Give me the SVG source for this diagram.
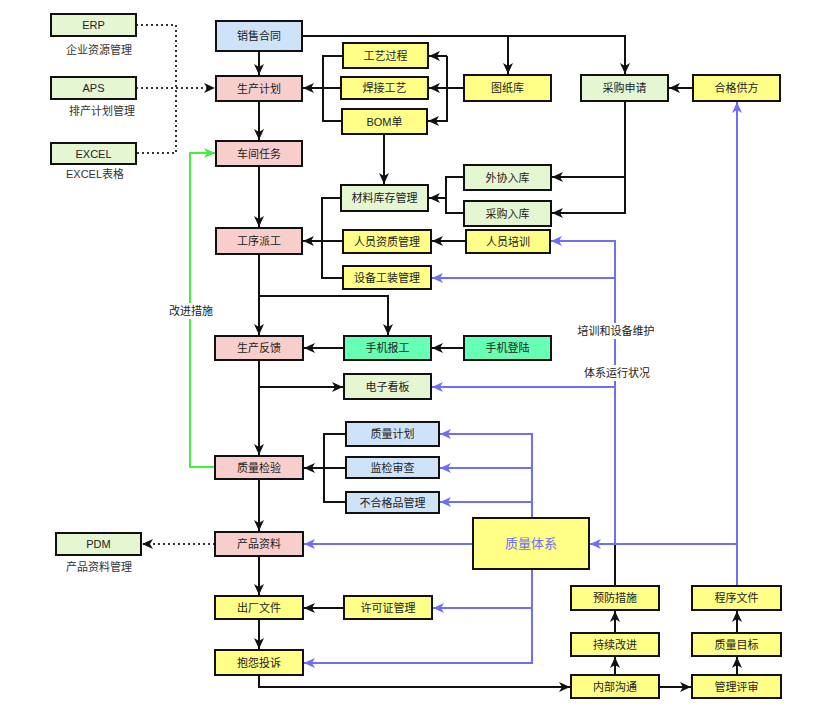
<svg xmlns="http://www.w3.org/2000/svg" width="835" height="706" viewBox="0 0 835 706">
<style>
text{font-family:"Liberation Sans","Noto Sans CJK SC",sans-serif;font-size:11px;fill:#222;text-anchor:middle;dominant-baseline:central}
.n rect{stroke:#111;stroke-width:2}
.pink{fill:#f8cecc}.yel{fill:#ffff88}.blu{fill:#cfe3f8}.grn{fill:#e4f7d2}.mint{fill:#66ffb3}
.sub{fill:#333}
.k{fill:none;stroke:#111;stroke-width:2}
.b{fill:none;stroke:#6f6ff5;stroke-width:2}
.g{fill:none;stroke:#44ee44;stroke-width:2}
.d{fill:none;stroke:#333;stroke-width:2;stroke-dasharray:2 3}
</style>
<defs>
<marker id="ak" markerUnits="userSpaceOnUse" markerWidth="12" markerHeight="10" refX="11" refY="5" orient="auto"><path d="M0,0 L11,5 L0,10 L3,5 z" fill="#111"/></marker>
<marker id="ab" markerUnits="userSpaceOnUse" markerWidth="12" markerHeight="10" refX="11" refY="5" orient="auto"><path d="M0,0 L11,5 L0,10 L3,5 z" fill="#6f6ff5"/></marker>
<marker id="ag" markerUnits="userSpaceOnUse" markerWidth="12" markerHeight="10" refX="11" refY="5" orient="auto"><path d="M0,0 L11,5 L0,10 L3,5 z" fill="#44ee44"/></marker>
</defs>
<rect width="835" height="706" fill="#fff"/>
<g id="connectors">
<!-- dotted -->
<path class="d" d="M136,25 H176 V153 H136"/>
<path class="d" d="M136,88 H215" marker-end="url(#ak)"/>
<path class="d" d="M215,544 H142" marker-end="url(#ak)"/>
<!-- main column -->
<path class="k" d="M259,51 V75" marker-end="url(#ak)"/>
<path class="k" d="M259,101 V140" marker-end="url(#ak)"/>
<path class="k" d="M259,166 V227" marker-end="url(#ak)"/>
<path class="k" d="M259,254 V335" marker-end="url(#ak)"/>
<path class="k" d="M259,296 H388 V335" marker-end="url(#ak)"/>
<path class="k" d="M259,360 V455" marker-end="url(#ak)"/>
<path class="k" d="M259,387 H343" marker-end="url(#ak)"/>
<path class="k" d="M259,479 V531" marker-end="url(#ak)"/>
<path class="k" d="M259,556 V595" marker-end="url(#ak)"/>
<path class="k" d="M259,619 V649" marker-end="url(#ak)"/>
<path class="k" d="M259,675 V687 H570" marker-end="url(#ak)"/>
<path class="k" d="M659,687 H691" marker-end="url(#ak)"/>
<path class="k" d="M615,675 V657" marker-end="url(#ak)"/>
<path class="k" d="M615,633 V611" marker-end="url(#ak)"/>
<path class="k" d="M615,586 V544"/>
<path class="k" d="M737,675 V657" marker-end="url(#ak)"/>
<path class="k" d="M737,633 V611" marker-end="url(#ak)"/>
<!-- top -->
<path class="k" d="M302,36 H625 V74" marker-end="url(#ak)"/>
<path class="k" d="M508,36 V74" marker-end="url(#ak)"/>
<path class="k" d="M464,88 H429" marker-end="url(#ak)"/>
<path class="k" d="M447,88 V56"/>
<path class="k" d="M447,56 H429" marker-end="url(#ak)"/>
<path class="k" d="M447,88 V121 H428" marker-end="url(#ak)"/>
<path class="k" d="M343,56 H323 V121 H342"/>
<path class="k" d="M341,88 H303" marker-end="url(#ak)"/>
<path class="k" d="M384,134 V184" marker-end="url(#ak)"/>
<path class="k" d="M693,88 H669" marker-end="url(#ak)"/>
<path class="k" d="M625,101 V213 H552" marker-end="url(#ak)"/>
<path class="k" d="M625,177 H552" marker-end="url(#ak)"/>
<path class="k" d="M464,177 H446 V213 H464"/>
<path class="k" d="M446,198 H429" marker-end="url(#ak)"/>
<path class="k" d="M341,198 H322 V278 H343"/>
<path class="k" d="M343,241 H303" marker-end="url(#ak)"/>
<path class="k" d="M466,241 H432" marker-end="url(#ak)"/>
<path class="k" d="M464,348 H432" marker-end="url(#ak)"/>
<path class="k" d="M344,348 H304" marker-end="url(#ak)"/>
<path class="k" d="M346,434 H324 V502 H346"/>
<path class="k" d="M346,468 H304" marker-end="url(#ak)"/>
<path class="k" d="M344,608 H304" marker-end="url(#ak)"/>
<!-- blue -->
<path class="b" d="M532,518 V434 H440" marker-end="url(#ab)"/>
<path class="b" d="M532,468 H440" marker-end="url(#ab)"/>
<path class="b" d="M532,502 H440" marker-end="url(#ab)"/>
<path class="b" d="M473,544 H304" marker-end="url(#ab)"/>
<path class="b" d="M532,569 V663 H304" marker-end="url(#ab)"/>
<path class="b" d="M532,608 H433" marker-end="url(#ab)"/>
<path class="b" d="M737,586 V102" marker-end="url(#ab)"/>
<path class="b" d="M737,544 H590" marker-end="url(#ab)"/>
<path class="b" d="M615,544 V241 H551" marker-end="url(#ab)"/>
<path class="b" d="M615,278 H432" marker-end="url(#ab)"/>
<path class="b" d="M615,387 H432" marker-end="url(#ab)"/>
<!-- green -->
<path class="g" d="M215,467 H190 V153 H215" marker-end="url(#ag)"/>
<!-- labels -->
<rect x="170" y="303" width="42" height="16" fill="#fff"/>
<text x="191" y="311">改进措施</text>
<rect x="581" y="323" width="70" height="16" fill="#fff"/>
<text x="616" y="331">培训和设备维护</text>
<rect x="587" y="365" width="60" height="16" fill="#fff"/>
<text x="617" y="373">体系运行状况</text>
</g>
<g id="erp" class="n"><rect class="grn" x="51" y="14" width="85" height="22"/><text x="93.5" y="25">ERP</text><text class="sub" x="99" y="50">企业资源管理</text></g>
<g id="aps" class="n"><rect class="grn" x="51" y="77" width="85" height="22"/><text x="93.5" y="88">APS</text><text class="sub" x="102" y="111">排产计划管理</text></g>
<g id="excel" class="n"><rect class="grn" x="51" y="143" width="85" height="21"/><text x="93.5" y="153.5">EXCEL</text><text class="sub" x="95" y="174">EXCEL表格</text></g>
<g id="pdm" class="n"><rect class="grn" x="56" y="533" width="85" height="22"/><text x="98.5" y="544">PDM</text><text class="sub" x="99" y="567">产品资料管理</text></g>
<g id="xsht" class="n"><rect class="blu" x="216" y="21" width="86" height="30"/><text x="259" y="36">销售合同</text></g>
<g id="scjh" class="n"><rect class="pink" x="216" y="76" width="86" height="25"/><text x="259" y="88.5">生产计划</text></g>
<g id="cjrw" class="n"><rect class="pink" x="216" y="141" width="86" height="25"/><text x="259" y="153.5">车间任务</text></g>
<g id="gxpg" class="n"><rect class="pink" x="216" y="228" width="86" height="26"/><text x="259" y="241">工序派工</text></g>
<g id="scfk" class="n"><rect class="pink" x="215" y="336" width="88" height="24"/><text x="259" y="348">生产反馈</text></g>
<g id="zljy" class="n"><rect class="pink" x="215" y="456" width="88" height="23"/><text x="259" y="467.5">质量检验</text></g>
<g id="cpzl" class="n"><rect class="pink" x="215" y="532" width="88" height="24"/><text x="259" y="544">产品资料</text></g>
<g id="ccwj" class="n"><rect class="yel" x="215" y="596" width="88" height="23"/><text x="259" y="607.5">出厂文件</text></g>
<g id="bytx" class="n"><rect class="yel" x="215" y="650" width="88" height="25"/><text x="259" y="662.5">抱怨投诉</text></g>
<g id="gygc" class="n"><rect class="yel" x="343" y="43" width="85" height="25"/><text x="385.5" y="55.5">工艺过程</text></g>
<g id="hjgy" class="n"><rect class="yel" x="341" y="77" width="87" height="22"/><text x="384.5" y="88">焊接工艺</text></g>
<g id="bom" class="n"><rect class="yel" x="342" y="109" width="85" height="25"/><text x="384.5" y="121.5">BOM单</text></g>
<g id="tzk" class="n"><rect class="yel" x="464" y="75" width="87" height="26"/><text x="507.5" y="88">图纸库</text></g>
<g id="cgsq" class="n"><rect class="grn" x="581" y="75" width="87" height="26"/><text x="624.5" y="88">采购申请</text></g>
<g id="hggf" class="n"><rect class="yel" x="693" y="75" width="87" height="26"/><text x="736.5" y="88">合格供方</text></g>
<g id="clkc" class="n"><rect class="grn" x="341" y="185" width="87" height="26"/><text x="384.5" y="198">材料库存管理</text></g>
<g id="wxrk" class="n"><rect class="grn" x="464" y="165" width="87" height="25"/><text x="507.5" y="177.5">外协入库</text></g>
<g id="cgrk" class="n"><rect class="grn" x="464" y="201" width="87" height="25"/><text x="507.5" y="213.5">采购入库</text></g>
<g id="ryzz" class="n"><rect class="yel" x="343" y="230" width="88" height="23"/><text x="387" y="241.5">人员资质管理</text></g>
<g id="rypx" class="n"><rect class="yel" x="466" y="230" width="84" height="23"/><text x="508" y="241.5">人员培训</text></g>
<g id="sbgz" class="n"><rect class="yel" x="343" y="266" width="88" height="23"/><text x="387" y="277.5">设备工装管理</text></g>
<g id="sjbg" class="n"><rect class="mint" x="344" y="336" width="87" height="24"/><text x="387.5" y="348">手机报工</text></g>
<g id="sjdl" class="n"><rect class="mint" x="464" y="336" width="87" height="24"/><text x="507.5" y="348">手机登陆</text></g>
<g id="dzkb" class="n"><rect class="grn" x="344" y="374" width="87" height="25"/><text x="387.5" y="386.5">电子看板</text></g>
<g id="zljh" class="n"><rect class="blu" x="346" y="422" width="93" height="24"/><text x="392.5" y="434">质量计划</text></g>
<g id="jjsc" class="n"><rect class="blu" x="346" y="457" width="93" height="21"/><text x="392.5" y="467.5">监检审查</text></g>
<g id="bhgp" class="n"><rect class="blu" x="346" y="492" width="93" height="21"/><text x="392.5" y="502.5">不合格品管理</text></g>
<g id="zltx" class="n"><rect class="yel" x="473" y="518" width="116" height="51"/><text x="531" y="543.5" style="font-size:13px;fill:#6f6ff5">质量体系</text></g>
<g id="xkz" class="n"><rect class="yel" x="344" y="596" width="88" height="23"/><text x="388" y="607.5">许可证管理</text></g>
<g id="yfcs" class="n"><rect class="yel" x="571" y="586" width="88" height="24"/><text x="615" y="598">预防措施</text></g>
<g id="cxgj" class="n"><rect class="yel" x="571" y="633" width="88" height="23"/><text x="615" y="644.5">持续改进</text></g>
<g id="nbgt" class="n"><rect class="yel" x="571" y="675" width="88" height="23"/><text x="615" y="686.5">内部沟通</text></g>
<g id="cxwj" class="n"><rect class="yel" x="692" y="586" width="89" height="24"/><text x="736.5" y="598">程序文件</text></g>
<g id="zlmb" class="n"><rect class="yel" x="692" y="633" width="89" height="23"/><text x="736.5" y="644.5">质量目标</text></g>
<g id="glps" class="n"><rect class="yel" x="692" y="675" width="89" height="23"/><text x="736.5" y="686.5">管理评审</text></g>
</svg>
